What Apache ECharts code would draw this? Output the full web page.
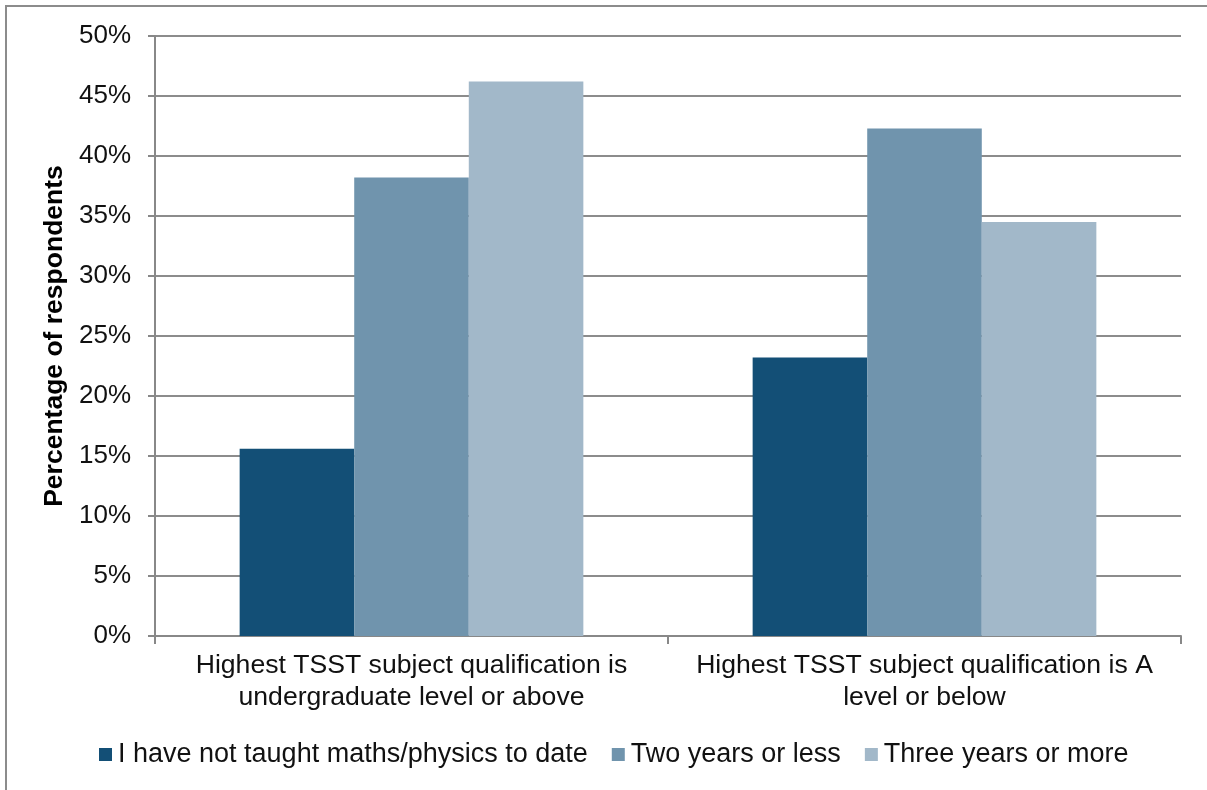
<!DOCTYPE html>
<html>
<head>
<meta charset="utf-8">
<script src="https://cdn.jsdelivr.net/npm/echarts@6/dist/echarts.min.js"></script>
<style>
html,body{margin:0;padding:0;background:#fff;}
#chart{width:1207px;height:790px;}
</style>
</head>
<body>
<div id="chart"></div>
<script>
var categories = [
  'Highest TSST subject qualification is\nundergraduate level or above',
  'Highest TSST subject qualification is A\nlevel or below'
];
var seriesNames = ['I have not taught maths/physics to date', 'Two years or less', 'Three years or more'];
var notTaught = [15.6, 23.2];
var twoOrLess = [38.2, 42.3];
var threeOrMore = [46.2, 34.5];
var yTicks = {min: 0, max: 50, interval: 5};
var colors = ['#134F76', '#7094AD', '#A2B8C9'];

var font = '"Liberation Sans", Arial, sans-serif';
var chart = echarts.init(document.getElementById('chart'));
var values = [notTaught, twoOrLess, threeOrMore];
chart.setOption({
  animation: false,
  color: colors,
  graphic: [{
    type: 'rect',
    shape: {x: 6, y: 6, width: 1230, height: 820},
    style: {fill: 'none', stroke: '#8c8c8c', lineWidth: 2},
    silent: true
  }],
  grid: {left: 155, right: 26, top: 36, bottom: 154},
  legend: {
    top: 736,
    left: 94,
    itemWidth: 13,
    itemHeight: 13,
    itemGap: 24,
    icon: 'rect',
    textStyle: {fontFamily: font, fontSize: 27, color: '#111', padding: [0, 0, 0, 1]},
    data: seriesNames
  },
  xAxis: {
    type: 'category',
    data: categories,
    axisLine: {lineStyle: {color: '#888', width: 2}},
    axisTick: {show: true, length: 8, lineStyle: {color: '#888', width: 2}, interval: 0},
    axisLabel: {fontFamily: font, fontSize: 26.6, color: '#111', lineHeight: 32, margin: 14, interval: 0}
  },
  yAxis: {
    type: 'value',
    min: yTicks.min,
    max: yTicks.max,
    interval: yTicks.interval,
    name: 'Percentage of respondents',
    nameLocation: 'middle',
    nameGap: 85,
    nameTextStyle: {fontFamily: font, fontSize: 26.5, fontWeight: 'bold', color: '#000'},
    axisLine: {show: true, lineStyle: {color: '#888', width: 2}},
    axisTick: {show: true, length: 7, lineStyle: {color: '#888', width: 2}},
    splitLine: {lineStyle: {color: '#8c8c8c', width: 2}},
    axisLabel: {fontFamily: font, fontSize: 26, color: '#111', margin: 24, formatter: '{value}%'}
  },
  series: seriesNames.map(function (n, i) {
    return {
      name: n,
      type: 'bar',
      data: values[i],
      barGap: '0%',
      barCategoryGap: '33%',
      itemStyle: {color: colors[i]}
    };
  })
});
</script>
</body>
</html>
